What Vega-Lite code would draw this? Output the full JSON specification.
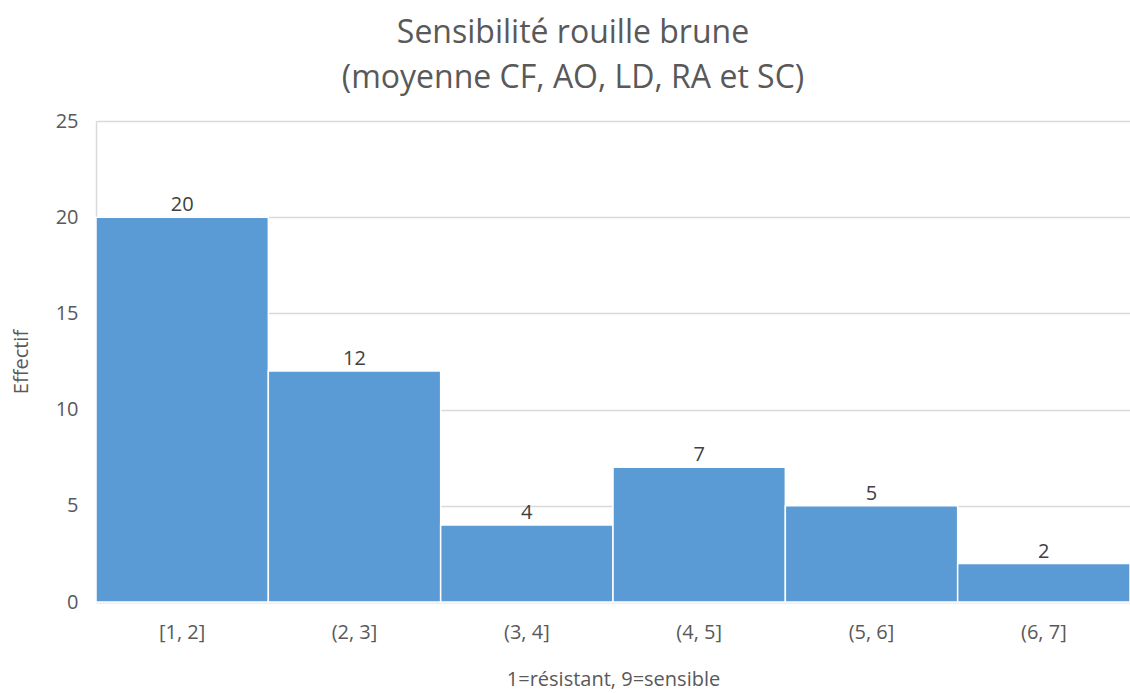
{
  "$schema": "https://vega.github.io/schema/vega-lite/v6.json",
  "autosize": "none",
  "width": 1034,
  "height": 481,
  "padding": {"left": 96, "top": 121, "right": 0, "bottom": 91},
  "background": "white",
  "title": {
    "text": ["Sensibilité rouille brune", "(moyenne CF, AO, LD, RA et SC)"],
    "anchor": "middle",
    "frame": "group",
    "dx": -40,
    "offset": 16,
    "font": "Open Sans",
    "fontSize": 32,
    "fontWeight": "normal",
    "color": "#595959",
    "lineHeight": 45
  },
  "data": {
    "values": [
      {"classe": "[1, 2]", "effectif": 20},
      {"classe": "(2, 3]", "effectif": 12},
      {"classe": "(3, 4]", "effectif": 4},
      {"classe": "(4, 5]", "effectif": 7},
      {"classe": "(5, 6]", "effectif": 5},
      {"classe": "(6, 7]", "effectif": 2}
    ]
  },
  "encoding": {
    "x": {
      "field": "classe",
      "type": "nominal",
      "sort": null,
      "scale": {"paddingInner": 0, "paddingOuter": 0},
      "axis": {
        "title": "1=résistant, 9=sensible",
        "titleFont": "Open Sans",
        "titleFontSize": 20,
        "titleFontWeight": "normal",
        "titleColor": "#595959",
        "titlePadding": 27,
        "labelAngle": 0,
        "labelFont": "Open Sans",
        "labelFontSize": 20,
        "labelColor": "#595959",
        "labelPadding": 20,
        "ticks": false,
        "domainColor": "#d9d9d9",
        "domainWidth": 1.5
      }
    },
    "y": {
      "field": "effectif",
      "type": "quantitative",
      "scale": {"domain": [0, 25]},
      "axis": {
        "title": "Effectif",
        "titleFont": "Open Sans",
        "titleFontSize": 20,
        "titleFontWeight": "normal",
        "titleColor": "#595959",
        "titlePadding": 24,
        "values": [0, 5, 10, 15, 20, 25],
        "labelFont": "Open Sans",
        "labelFontSize": 20,
        "labelColor": "#595959",
        "labelPadding": 18,
        "ticks": false,
        "grid": true,
        "gridColor": "#d9d9d9",
        "gridWidth": 1.5,
        "domainColor": "#d9d9d9",
        "domainWidth": 1.5
      }
    }
  },
  "layer": [
    {
      "mark": {"type": "bar", "color": "#5b9bd5", "stroke": "white", "strokeWidth": 1.5}
    },
    {
      "mark": {
        "type": "text",
        "baseline": "bottom",
        "dy": -2,
        "font": "Open Sans",
        "fontSize": 20,
        "color": "#404040"
      },
      "encoding": {"text": {"field": "effectif", "type": "quantitative"}}
    }
  ],
  "config": {"view": {"stroke": null}}
}
